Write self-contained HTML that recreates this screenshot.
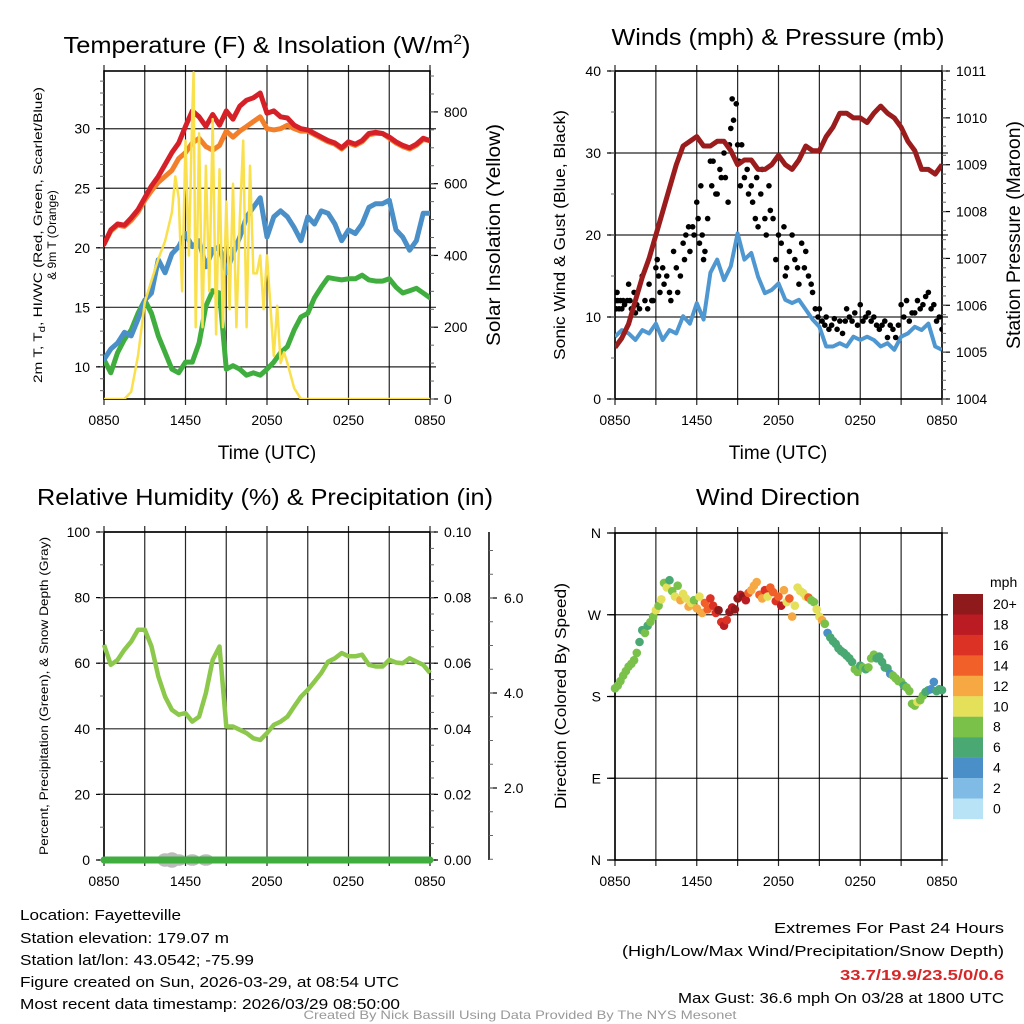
<!DOCTYPE html>
<html><head><meta charset="utf-8"><style>
html,body{margin:0;padding:0;background:#fff;}
svg{display:block;font-family:"Liberation Sans",Arial,sans-serif;}
</style></head><body>
<svg id="fig" width="1024" height="1024" viewBox="0 0 1024 1024" xmlns="http://www.w3.org/2000/svg">
<rect width="1024" height="1024" fill="#fff"/>
<!-- titles -->
<text x="267" y="53" font-size="23" text-anchor="middle" textLength="407" lengthAdjust="spacingAndGlyphs">Temperature (F) &amp; Insolation (W/m<tspan font-size="14" dy="-9">2</tspan><tspan dy="9">)</tspan></text>
<text x="778" y="45" font-size="23" text-anchor="middle" textLength="333" lengthAdjust="spacingAndGlyphs">Winds (mph) &amp; Pressure (mb)</text>
<text x="265" y="505" font-size="23" text-anchor="middle" textLength="456" lengthAdjust="spacingAndGlyphs">Relative Humidity (%) &amp; Precipitation (in)</text>
<text x="778" y="505" font-size="23" text-anchor="middle" textLength="164" lengthAdjust="spacingAndGlyphs">Wind Direction</text>
<!-- axis titles -->
<text font-size="12" text-anchor="middle" transform="translate(42,235) rotate(-90)" textLength="296" lengthAdjust="spacingAndGlyphs">2m T, T<tspan font-size="9" dy="3">d</tspan><tspan dy="-3">, HI/WC (Red, Green, Scarlet/Blue)</tspan></text>
<text font-size="12" text-anchor="middle" transform="translate(56,235) rotate(-90)">&amp; 9m T (Orange)</text>
<text font-size="19" text-anchor="middle" transform="translate(500,235) rotate(-90)" textLength="222" lengthAdjust="spacingAndGlyphs">Solar Insolation (Yellow)</text>
<text x="267" y="459" font-size="19" text-anchor="middle">Time (UTC)</text>
<text font-size="16" text-anchor="middle" transform="translate(565,235) rotate(-90)" textLength="250" lengthAdjust="spacingAndGlyphs">Sonic Wind &amp; Gust (Blue, Black)</text>
<text font-size="19" text-anchor="middle" transform="translate(1020,235) rotate(-90)" textLength="228" lengthAdjust="spacingAndGlyphs">Station Pressure (Maroon)</text>
<text x="778" y="459" font-size="19" text-anchor="middle">Time (UTC)</text>
<text font-size="12" text-anchor="middle" transform="translate(48,696) rotate(-90)" textLength="318" lengthAdjust="spacingAndGlyphs">Percent, Precipitation (Green), &amp; Snow Depth (Gray)</text>
<text font-size="16" text-anchor="middle" transform="translate(566,696) rotate(-90)" textLength="226" lengthAdjust="spacingAndGlyphs">Direction (Colored By Speed)</text>
<!-- footer text -->
<g font-size="15" fill="#000">
<text x="20" y="920" textLength="161" lengthAdjust="spacingAndGlyphs">Location: Fayetteville</text>
<text x="20" y="943" textLength="209" lengthAdjust="spacingAndGlyphs">Station elevation: 179.07 m</text>
<text x="20" y="965" textLength="234" lengthAdjust="spacingAndGlyphs">Station lat/lon: 43.0542; -75.99</text>
<text x="20" y="987" textLength="379" lengthAdjust="spacingAndGlyphs">Figure created on Sun, 2026-03-29, at 08:54 UTC</text>
<text x="20" y="1009" textLength="380" lengthAdjust="spacingAndGlyphs">Most recent data timestamp: 2026/03/29 08:50:00</text>
<text x="1004" y="933" text-anchor="end" textLength="230" lengthAdjust="spacingAndGlyphs">Extremes For Past 24 Hours</text>
<text x="1004" y="956" text-anchor="end" textLength="382" lengthAdjust="spacingAndGlyphs">(High/Low/Max Wind/Precipitation/Snow Depth)</text>
<text x="1004" y="980" text-anchor="end" fill="#d62728" font-weight="bold" textLength="164" lengthAdjust="spacingAndGlyphs">33.7/19.9/23.5/0/0.6</text>
<text x="1004" y="1003" text-anchor="end" textLength="326" lengthAdjust="spacingAndGlyphs">Max Gust: 36.6 mph On 03/28 at 1800 UTC</text>
</g>
<text x="520" y="1019" font-size="12" fill="#999" text-anchor="middle" textLength="433" lengthAdjust="spacingAndGlyphs">Created By Nick Bassill Using Data Provided By The NYS Mesonet</text>
<g id="panels"></g>
</svg>
<script>
// ---------- data ----------
const hours = [0,0.5,1,1.5,2,2.5,3,3.5,4,4.5,5,5.5,6,6.5,7,7.5,8,8.5,9,9.5,10,10.5,11,11.5,12,12.5,13,13.5,14,14.5,15,15.5,16,16.5,17,17.5,18,18.5,19,19.5,20,20.5,21,21.5,22,22.5,23,23.5,24];
const xTickLabels = ["0850","1450","2050","0250","0850"];
const tempRed = [20.3,21.5,22,21.9,22.5,23.2,24.2,25.2,26,27,28,28.8,30.2,31.5,31,30.2,31.2,30.3,31.5,30.8,31.9,32.4,32.6,33,31.3,31.5,31,30.9,30.3,30,29.9,29.6,29.3,29,28.8,28.4,28.9,28.7,29,29.6,29.7,29.6,29.3,28.9,28.6,28.4,28.7,29.2,29];
const tempOrange = [20.3,21.4,21.9,21.8,22.3,23,24,24.8,25.5,26,26.5,27.5,28,28.8,29.2,28.5,28.2,28.6,29.8,29.3,29.8,30.2,30.6,31,30,29.9,30,30.3,30,29.8,29.8,29.5,29.2,28.9,28.7,28.3,28.8,28.6,28.9,29.5,29.6,29.6,29.2,28.8,28.5,28.3,28.6,29.1,29];
const dewBlue = [10.6,11.5,12,12.9,12.6,14,15.6,16.2,19,17.9,19.5,20.1,21.2,20.1,20.6,18.4,19.8,20.1,17.9,19.5,20.9,22.6,23.4,24.2,20.9,22.6,23.1,22.6,21.7,20.6,22.6,22,23.1,22.9,22,20.6,21.5,21.2,22,23.4,23.7,23.7,24,21.5,20.9,19.8,20.6,22.9,22.9];
const hiwcGreen = [10.6,9.5,11.2,12.3,13.1,14.5,15.6,14.5,12.6,11.2,9.8,9.5,10.4,10.4,12,15.1,16.4,16.2,9.8,10.1,9.8,9.3,9.5,9.3,9.8,10.4,11.2,11.7,13.1,14.2,14.5,15.8,16.7,17.5,17.4,17.3,17.4,17.4,17.7,17.3,17.2,17.2,17.4,16.7,16.2,16.4,16.6,16.2,15.8];
const solarHours = [0,1.5,2,2.5,3,3.5,4,4.5,5,5.25,5.5,5.75,6,6.25,6.5,6.6,6.75,7,7.25,7.5,7.75,8,8.25,8.5,8.75,9,9.25,9.5,9.75,10,10.25,10.5,10.75,11,11.25,11.5,11.75,12,12.25,12.5,12.75,13,13.25,13.5,14,14.5,24];
const solarVals = [0,0,20,120,270,330,390,440,520,620,560,300,720,400,800,910,200,740,200,650,300,780,180,640,200,550,250,600,200,500,720,200,650,350,350,400,250,400,260,120,260,100,130,100,30,0,0];
const pressure = [1005.1,1005.3,1005.6,1006.1,1006.6,1007,1007.5,1008,1008.5,1009,1009.4,1009.5,1009.6,1009.4,1009.4,1009.5,1009.5,1009.3,1009,1009.1,1009.1,1008.9,1008.9,1009,1009.2,1009,1008.9,1009.1,1009.4,1009.3,1009.3,1009.6,1009.8,1010.1,1010.1,1010,1010,1009.9,1010.1,1010.25,1010.1,1010,1009.8,1009.5,1009.3,1008.9,1008.9,1008.8,1009];
const windSpeed = [7.6,8.4,8,7.2,8.4,8,9.2,7.2,8.4,8,10.1,9.2,11.7,9.7,15.4,17,14.5,16.2,20.2,17,17.8,14.9,12.9,13.3,14.1,12.1,11.7,12.1,10.9,9.7,8.8,6.4,6.4,6.8,6.4,7.6,7.2,7.6,7.2,6.4,6.8,6,7.6,8,8.8,8.4,9.2,6.4,6];
const gustHours = [0.05,0.1,0.15,0.2,0.3,0.4,0.5,0.6,0.7,0.9,1,1.1,1.2,1.4,1.5,1.6,1.8,2,2.2,2.4,2.5,2.7,2.8,3,3.1,3.2,3.3,3.5,3.6,3.8,4,4.1,4.3,4.5,4.6,4.8,5,5.1,5.2,5.4,5.5,5.7,5.8,6,6.1,6.2,6.3,6.4,6.5,6.6,6.8,7,7.1,7.2,7.4,7.5,7.7,7.8,8,8.1,8.3,8.4,8.5,8.6,8.7,8.9,9,9.1,9.2,9.3,9.5,9.7,9.8,10,10.1,10.3,10.4,10.5,10.7,10.8,11,11.1,11.3,11.4,11.6,11.8,12,12.2,12.4,12.5,12.6,12.8,13,13.2,13.4,13.5,13.7,13.9,14,14.2,14.4,14.5,14.7,14.9,15,15.2,15.4,15.5,15.7,15.9,16.1,16.3,16.5,16.7,16.9,17,17.2,17.4,17.6,17.8,18,18.2,18.4,18.6,18.8,19,19.2,19.4,19.6,19.8,20,20.2,20.4,20.6,20.8,21,21.2,21.4,21.6,21.8,22,22.2,22.4,22.6,22.8,23,23.2,23.4,23.6,23.8,24];
const gustVals = [12,11,13,12,11,12,11,12,11.5,12,14,12,11,13,10.5,11.5,11,15,12,11,14,12,12,16,17,15,13,16,14,15,13,12,18,16,13,15,19,17,20,21,18,21,20,24,22,19,26,20,17,18,22,29,26,29,25,25,28,27,30,27,24,31,33,36.6,34,36,31,29,26,31,27,28,25,26,24,22,27,21,25,28,22,20,26,23,22,17,20,19,21,15,16,18,20,17,16,14,19,16,18,15,14,13,11,10,11,9.5,9,10,8.5,9,9.8,8.5,9.5,8,9.5,11,10,9.5,10.5,9,11.5,9.5,10,10.5,9.5,10,9,8.5,9,9.5,7.5,9,8.5,7.5,9,11.5,10,12,9.5,10.5,10.5,12,11,11.5,12.5,13,11,11.5,9.5,10,8.5];
const rhVals = [65.6,59.5,61,64.1,66.6,70.2,70.2,65.1,56,49.8,45.8,44.3,44.8,42.2,43.7,50.9,61,65.1,40.7,40.7,39.7,38.7,37.1,36.6,38.7,41.2,42.2,43.7,46.8,49.8,51.9,54.4,57,60.5,61.5,63.1,62.1,62.1,62.6,59.5,59,59,61,60.2,60,61.5,60.5,59.5,57];
const snowHours = [4.5,5,5.5,6.5,7.5];
const snowVals = [0.1,0.12,0.08,0.08,0.08];
const dirHours = [0,0.2,0.4,0.6,0.8,1,1.2,1.4,1.6,1.8,2,2.2,2.4,2.6,2.8,3,3.2,3.4,3.6,3.8,4,4.2,4.4,4.6,4.8,5,5.2,5.4,5.6,5.8,6,6.2,6.4,6.6,6.8,7,7.2,7.4,7.6,7.8,8,8.2,8.4,8.6,8.8,9,9.2,9.4,9.6,9.8,10,10.2,10.4,10.6,10.8,11,11.2,11.4,11.6,11.8,12,12.2,12.4,12.6,12.8,13,13.2,13.4,13.6,13.8,14,14.2,14.4,14.6,14.8,15,15.2,15.4,15.6,15.8,16,16.2,16.4,16.6,16.8,17,17.2,17.4,17.6,17.8,18,18.2,18.4,18.6,18.8,19,19.2,19.4,19.6,19.8,20,20.2,20.4,20.6,20.8,21,21.2,21.4,21.6,21.8,22,22.2,22.4,22.6,22.8,23,23.2,23.4,23.6,23.8,24];
const dirVals = [189,192,197,203,208,213,216,220,228,240,253,250,258,262,268,275,280,287,305,300,308,296,290,302,286,293,288,279,283,286,277,290,272,283,276,288,280,272,275,262,258,264,273,278,276,288,292,290,286,294,297,302,306,292,288,297,290,300,295,285,290,280,297,284,288,268,280,300,296,294,290,289,286,284,276,268,264,260,250,245,241,238,233,230,228,225,222,218,210,207,214,212,210,212,222,226,222,224,218,212,211,205,203,200,197,196,192,190,186,172,170,174,176,181,185,187,188,196,186,188,187];
const dirSpeeds = [8,8,8,8,8,8,8,8,8,6,6,8,6,8,8,10,8,10,8,10,6,8,10,8,12,10,10,12,10,8,12,10,12,14,14,16,16,16,20,16,18,16,20,18,20,20,18,20,18,14,12,12,12,14,12,16,10,14,14,16,14,18,12,10,14,12,10,10,10,10,10,14,8,8,10,10,12,8,4,6,6,6,6,6,6,6,6,6,8,8,6,8,6,8,8,8,6,6,6,6,6,4,8,8,8,8,6,8,8,8,8,10,8,8,6,6,4,4,6,6,6];
const dirTickLabels = ["N","E","S","W","N"];
const speedLabels = ["20+","18","16","14","12","10","8","6","4","2","0"];
const speedColors = ["#8e1a1b","#bb1c23","#dc3125","#f06028","#f6a843","#e5e05a","#7ac14a","#4aa873","#4a8fc7","#7fbbe5","#b8e3f7"];

// ---------- helpers ----------
const NS="http://www.w3.org/2000/svg";
const root=document.getElementById('panels');
function mk(tag,attrs,parent){const e=document.createElementNS(NS,tag);for(const k in attrs)e.setAttribute(k,attrs[k]);(parent||root).appendChild(e);return e;}
function lin(d0,d1,r0,r1){return v=>r0+(v-d0)*(r1-r0)/(d1-d0);}
function pathFrom(xs,ys,fx,fy){return xs.map((t,i)=>(i?'L':'M')+fx(t).toFixed(1)+','+fy(ys[i]).toFixed(1)).join('');}

function frame(L,R,T,B,name){
  const g=mk('g',{});
  
  
  const fx=lin(0,24,L,R);
  for(let h=0;h<=24;h+=3){
    const x=fx(h);
    const gl=mk('line',{x1:x,x2:x,y1:T-6,y2:B+6,stroke:'#000','stroke-width':1.2,'stroke-opacity':0.85},g);
    
    
  }
  xTickLabels.forEach((lab,i)=>{
    const t=mk('text',{x:fx(i*6),y:B+26,'font-size':14,'text-anchor':'middle'},g);
    t.textContent=lab;
    
    
  });
  mk('rect',{x:L,y:T,width:R-L,height:B-T,fill:'none',stroke:'#000','stroke-width':1.6},g);
  return {g,fx};
}
function yAxis(g,L,R,T,B,fy,vals,labels,side,minorStep,lo,hi,hgrid){
  vals.forEach((v,i)=>{
    const y=fy(v);
    if(hgrid){const l=mk('line',{x1:L-6,x2:R+6,y1:y,y2:y,stroke:'#000','stroke-width':1.2,'stroke-opacity':0.85},g);
      
      }
    const x= side==='left'? L-14 : R+14;
    const t=mk('text',{x:x,y:y+5,'font-size':14,'text-anchor':side==='left'?'end':'start'},g);
    t.textContent=labels[i];
    
    
    const tx=side==='left'?L:R;
    mk('line',{x1:tx,x2:side==='left'?tx-8:tx+8,y1:y,y2:y,stroke:'#000','stroke-width':1.2},g);
  });
  if(minorStep){for(let v=lo;v<=hi+1e-9;v+=minorStep){const y=fy(v);const tx=side==='left'?L:R;
    mk('line',{x1:tx,x2:side==='left'?tx-4:tx+4,y1:y,y2:y,stroke:'#666','stroke-width':1},g);}}
}

// ---------- Panel 1: temperature ----------
(function(){
  const L=104,R=430,T=71,B=399;
  const {g,fx}=frame(L,R,T,B,'temperature-chart');
  const fy=lin(7.3,34.85,B,T);
  const fs=lin(0,914,B,T);
  yAxis(g,L,R,T,B,fy,[10,15,20,25,30],['10','15','20','25','30'],'left',1,8,34,true);
  yAxis(g,L,R,T,B,fs,[0,200,400,600,800],['0','200','400','600','800'],'right',50,0,900,false);
  const clip=mk('clipPath',{id:'c1'},g);mk('rect',{x:L,y:T,width:R-L,height:B-T},clip);
  const pg=mk('g',{'clip-path':'url(#c1)'},g);
  const series=[['hiwc-green-line',hiwcGreen,'#3fae3f'],['dewpoint-blue-line',dewBlue,'#4a8fc7'],['temp-9m-orange-line',tempOrange,'#f37f2b'],['temp-2m-red-line',tempRed,'#d62028']];
  series.forEach(s=>{
    const p=mk('path',{d:pathFrom(hours,s[1],fx,fy),fill:'none',stroke:s[2],'stroke-width':5,'stroke-linejoin':'round','stroke-linecap':'round'},pg);
    
    
  });
  const sp=mk('path',{d:pathFrom(solarHours,solarVals,fx,fs),fill:'none',stroke:'#f9e04c','stroke-width':2.5,'stroke-linejoin':'round'},pg);
  
  
})();

// ---------- Panel 2: winds ----------
(function(){
  const L=615,R=942,T=71,B=399;
  const {g,fx}=frame(L,R,T,B,'winds-chart');
  const fy=lin(0,40,B,T);
  const fp=lin(1004,1011,B,T);
  yAxis(g,L,R,T,B,fy,[0,10,20,30,40],['0','10','20','30','40'],'left',5,0,40,true);
  yAxis(g,L,R,T,B,fp,[1004,1005,1006,1007,1008,1009,1010,1011],['1004','1005','1006','1007','1008','1009','1010','1011'],'right',0.2,1004,1011,false);
  const clip=mk('clipPath',{id:'c2'},g);mk('rect',{x:L,y:T,width:R-L,height:B-T},clip);
  const pg=mk('g',{'clip-path':'url(#c2)'},g);
  const w=mk('path',{d:pathFrom(hours,windSpeed,fx,fy),fill:'none',stroke:'#4f97d1','stroke-width':4,'stroke-linejoin':'round'},pg);
  
  
  gustHours.forEach((t,i)=>{
    const c=mk('circle',{cx:fx(t),cy:fy(gustVals[i]),r:2.8,fill:'#000'},pg);
    
    
  });
  const p=mk('path',{d:pathFrom(hours,pressure,fx,fp),fill:'none',stroke:'#9b1c1c','stroke-width':5,'stroke-linejoin':'round'},pg);
  
  
})();

// ---------- Panel 3: humidity ----------
(function(){
  const L=104,R=430,T=532,B=860;
  const {g,fx}=frame(L,R,T,B,'humidity-chart');
  const fy=lin(0,100,B,T);
  const fr=lin(0,0.1,B,T);
  yAxis(g,L,R,T,B,fy,[0,20,40,60,80,100],['0','20','40','60','80','100'],'left',10,0,100,true);
  yAxis(g,L,R,T,B,fr,[0,0.02,0.04,0.06,0.08,0.1],['0.00','0.02','0.04','0.06','0.08','0.10'],'right',0.005,0,0.1,false);
  const fsd=lin(0,2,883,788);
  const ax=mk('line',{x1:489,x2:489,y1:532,y2:860,stroke:'#000','stroke-width':1.5},g);
  
  
  [2,4,6].forEach(v=>{const y=fsd(v);mk('line',{x1:489,x2:497,y1:y,y2:y,stroke:'#000','stroke-width':1.2},g);
    const t=mk('text',{x:504,y:y+5,'font-size':14},g);t.textContent=v.toFixed(1);
    
    });
  for(let v=0.5;v<=9;v+=0.5){const y=fsd(v);if(y>=532&&y<=860)mk('line',{x1:489,x2:493,y1:y,y2:y,stroke:'#666','stroke-width':1},g);}
  snowHours.forEach((t,i)=>{
    const e=mk('ellipse',{cx:fx(t),cy:B,rx:8,ry:(fsd(0)-fsd(snowVals[i]))+2,fill:'#bbb'},g);
    
    
  });
  const pr=mk('line',{x1:L,x2:R,y1:fr(0),y2:fr(0),stroke:'#3fae3f','stroke-width':7,'stroke-linecap':'round'},g);
  
  
  const p=mk('path',{d:pathFrom(hours,rhVals,fx,fy),fill:'none',stroke:'#8cc84b','stroke-width':4.5,'stroke-linejoin':'round'},g);
  
  
})();

// ---------- Panel 4: wind direction ----------
(function(){
  const L=615,R=942,T=533,B=860;
  const {g,fx}=frame(L,R,T,B,'wind-direction-chart');
  const fy=lin(0,360,B,T);
  yAxis(g,L,R,T,B,fy,[0,90,180,270,360],dirTickLabels,'left',0,0,0,true);
  dirHours.forEach((t,i)=>{
    const s=dirSpeeds[i];
    const idx=Math.max(0,10-Math.min(10,Math.floor(s/2)));
    const c=mk('circle',{cx:fx(t),cy:fy(dirVals[i]),r:4.3,fill:speedColors[idx]},g);
    
    
  });
  const cb=mk('g',{},g);
  
  
  const t=mk('text',{x:990,y:587,'font-size':14},cb);t.textContent='mph';
  speedLabels.forEach((lab,i)=>{
    const y=594+i*20.45;
    const r=mk('rect',{x:953,y:y,width:30,height:20.6,fill:speedColors[i]},cb);
    
    
    const tx=mk('text',{x:993,y:y+15,'font-size':14},cb);tx.textContent=lab;
    
    
  });
})();
</script>
</body></html>
